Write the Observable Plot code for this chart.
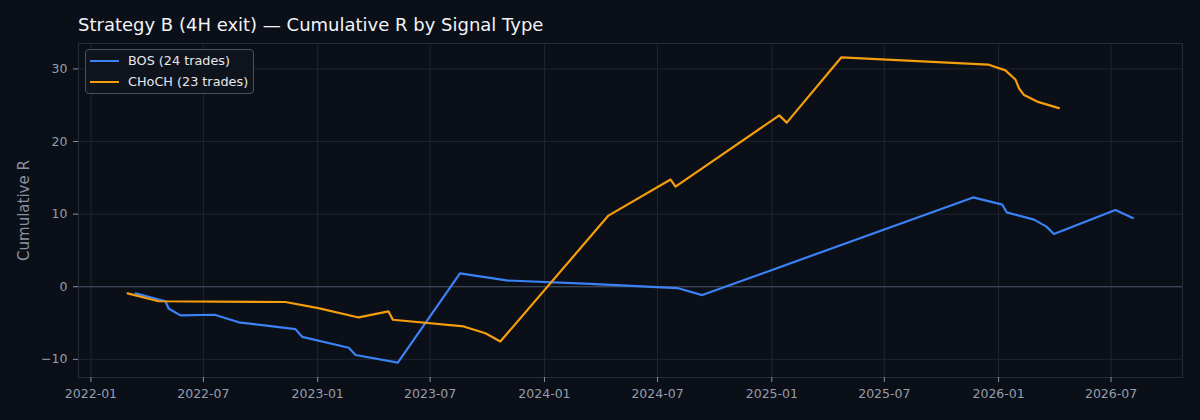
<!DOCTYPE html>
<html><head><meta charset="utf-8">
<script src="https://cdn.jsdelivr.net/npm/d3@7"></script>
<script src="https://cdn.jsdelivr.net/npm/@observablehq/plot@0.6"></script>
<style>
body{margin:0;background:#0b0f18;width:1200px;height:420px;overflow:hidden;position:relative;font-family:"DejaVu Sans",sans-serif}
#title{height:36px;box-sizing:border-box;padding:15px 0 0 78px;font-size:18px;line-height:20px;color:#f2f4f7;white-space:nowrap}
#legend{position:absolute;left:85px;top:49px;width:167px;height:43px;border:1px solid #4a505c;border-radius:4px;background:#0f131c}
.sw{position:absolute;left:4px;width:29px;height:2.4px}
.lt{position:absolute;left:42px;font-size:12.8px;color:#e6e8ec;line-height:16px;white-space:nowrap}
#chart svg{display:block}
</style></head>
<body>
<div id="title">Strategy B (4H exit) — Cumulative R by Signal Type</div>
<div id="chart"></div>
<div id="legend">
  <div class="sw" style="top:10px;background:#3b82f6"></div><div class="lt" style="top:3px">BOS (24 trades)</div>
  <div class="sw" style="top:31px;background:#f59e0b"></div><div class="lt" style="top:24px">CHoCH (23 trades)</div>
</div>
<script>
const bosDates = ["2022-03-14","2022-05-01","2022-05-06","2022-05-25","2022-07-19","2022-08-27","2022-11-26","2022-12-07","2023-02-20","2023-03-03","2023-05-10","2023-08-18","2023-11-01","2024-03-15","2024-08-02","2024-09-11","2025-11-21","2026-01-07","2026-01-14","2026-02-27","2026-03-19","2026-03-31","2026-07-08","2026-08-05"];
const bosR = [-0.92,-2.0,-3.0,-3.95,-3.86,-4.9,-5.84,-6.9,-8.4,-9.4,-10.44,1.84,0.87,0.4,-0.18,-1.15,12.3,11.3,10.25,9.24,8.28,7.26,10.57,9.47];
const chochDates = ["2022-03-01","2022-04-20","2022-11-10","2023-01-02","2023-03-08","2023-04-25","2023-05-02","2023-08-24","2023-09-28","2023-10-22","2024-04-13","2024-07-22","2024-07-30","2025-01-13","2025-01-25","2025-04-23","2025-12-15","2026-01-12","2026-01-28","2026-02-03","2026-02-11","2026-03-04","2026-04-08"];
const chochR = [-0.92,-2.0,-2.1,-2.95,-4.23,-3.4,-4.55,-5.47,-6.4,-7.54,9.8,14.76,13.8,23.6,22.6,31.6,30.6,29.8,28.55,27.3,26.4,25.5,24.6];
const xTickLabels = ["2022-01","2022-07","2023-01","2023-07","2024-01","2024-07","2025-01","2025-07","2026-01","2026-07"];
const yTicks = [-10,0,10,20,30];

const xTicks = xTickLabels.map(s => new Date(s + "-01"));
const bos = bosDates.map((d,i) => ({date:new Date(d), r:bosR[i]}));
const choch = chochDates.map((d,i) => ({date:new Date(d), r:chochR[i]}));

const chart = Plot.plot({
  width:1200, height:384,
  marginLeft:78, marginRight:18, marginTop:7, marginBottom:43,
  style:{background:"transparent", color:"#969eac", fontFamily:"DejaVu Sans", fontSize:"12.5px"},
  x:{type:"utc", domain:[new Date("2021-12-12"), new Date("2026-10-24")]},
  y:{domain:[-12.5,33.5]},
  marks:[
    Plot.gridX(xTicks, {stroke:"#1f2531", strokeOpacity:1}),
    Plot.gridY(yTicks, {stroke:"#1f2531", strokeOpacity:1}),
    Plot.ruleY([0], {stroke:"#465265", strokeWidth:1.1}),
    Plot.frame({stroke:"#262c38"}),
    Plot.axisX({ticks:xTicks, tickFormat:d3.utcFormat("%Y-%m"), tickSize:5, tickPadding:7, label:null, stroke:"#8a92a0"}),
    Plot.axisY({ticks:yTicks, tickFormat:d => d < 0 ? "\u2212" + Math.abs(d) : String(d), tickSize:5, tickPadding:6, label:null, stroke:"#8a92a0"}),
    Plot.text(["Cumulative R"], {frameAnchor:"left", textAnchor:"middle", dx:-54, rotate:-90, fontSize:15, fill:"#8a92a0"}),
    Plot.line(bos, {x:"date", y:"r", stroke:"#3b82f6", strokeWidth:2.2}),
    Plot.line(choch, {x:"date", y:"r", stroke:"#f59e0b", strokeWidth:2.2})
  ]
});
document.getElementById("chart").appendChild(chart);
</script>
</body></html>
